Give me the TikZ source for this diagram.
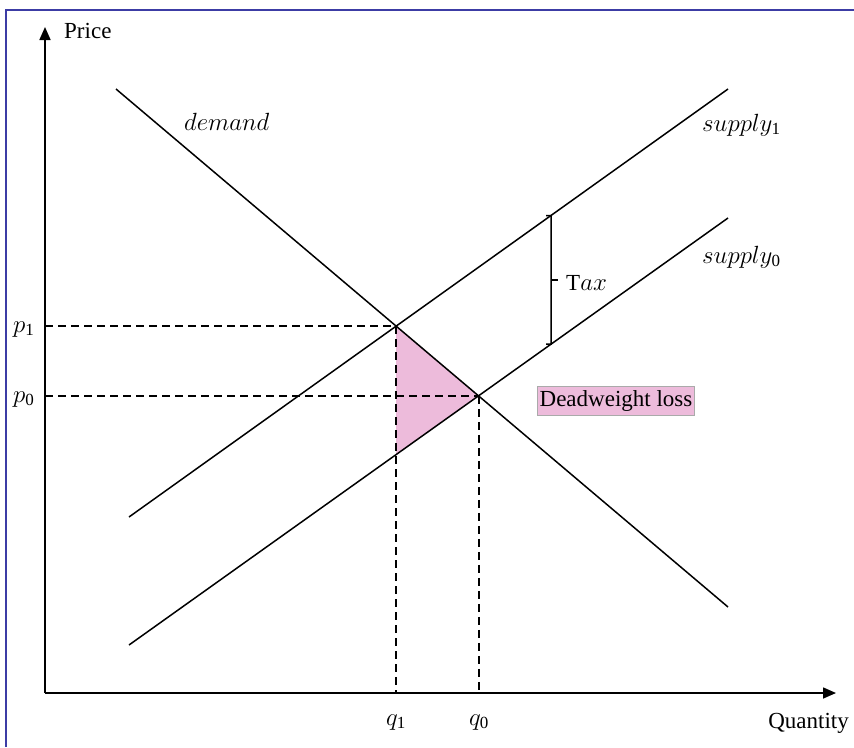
\documentclass[tikz,border=0pt]{standalone}
\usepackage{fontspec}
\setmainfont{Liberation Serif}
\usetikzlibrary{arrows.meta,calc}
\definecolor{framecol}{RGB}{60,60,165}
\definecolor{dwlpink}{RGB}{237,187,219}
\definecolor{boxgray}{RGB}{170,170,170}
\newcommand{\subdig}[1]{\hbox{\fontsize{17}{20}\selectfont #1}}
\tikzset{
  curve/.style={line width=1.5pt, black},
  axis/.style={line width=1.6pt, black, -{Triangle[length=13pt,width=11pt]}},
  guide/.style={line width=1.5pt, black, dash pattern=on 8pt off 5pt},
  lbl/.style={inner sep=0pt, font=\fontsize{23}{27}\selectfont},
  mlbl/.style={inner sep=0pt, font=\fontsize{25}{30}\selectfont},
}
\begin{document}
\begin{tikzpicture}[x=1pt,y=-1pt]
\useasboundingbox (0,0) rectangle (854,747);
% frame (left and top edges visible)
\draw[framecol, line width=1.5pt] (6,747) -- (6,10) -- (854,10);
% named points
\coordinate (O) at (45,693);
\coordinate (ytip) at (45,27);
\coordinate (xtip) at (836,693);
\coordinate (d1) at (116,89);
\coordinate (d2) at (728,607);
\coordinate (sa1) at (129,517);
\coordinate (sa2) at (728,89);
\coordinate (sb1) at (129,645);
\coordinate (sb2) at (728,218);
\coordinate (E1) at (intersection of d1--d2 and sa1--sa2);
\coordinate (E0) at (intersection of d1--d2 and sb1--sb2);
\coordinate (P1) at (O |- E1);
\coordinate (P0) at (O |- E0);
\coordinate (Q1) at (396,693);
\coordinate (Q0) at (479,693);
\coordinate (T1) at (E1 |- sb1);
\coordinate (B) at (intersection of E1--T1 and sb1--sb2);
% tax bracket points
\coordinate (tx0) at (551,0);
\coordinate (tx1) at (551,700);
\coordinate (tt) at (intersection of tx0--tx1 and sa1--sa2);
\coordinate (tb) at (intersection of tx0--tx1 and sb1--sb2);
% deadweight triangle
\fill[dwlpink] (E1) -- (E0) -- (B) -- cycle;
% guides
\draw[guide] (P1) -- (E1);
\draw[guide] (Q1 |- E1) -- (Q1);
\draw[guide] (P0) -- (E0);
\draw[guide] (Q0 |- E0) -- (Q0);
% curves
\draw[curve] (d1) -- (d2);
\draw[curve] (sa1) -- (sa2);
\draw[curve] (sb1) -- (sb2);
% axes
\draw[axis] (O) -- (ytip);
\draw[axis] (O) -- (xtip);
% tax bracket
\draw[line width=1.5pt] ([xshift=-5pt]tt) -- (tt) -- (tb) -- ([xshift=-5pt]tb);
\coordinate (tm) at ($(tt)!0.5!(tb)$);
\draw[line width=1.5pt] (tm) -- ([xshift=7pt]tm);
% labels
\node[lbl, anchor=base west] (price) at (64,38) {Price};
\node[mlbl, anchor=base west] (dem) at (184,130) {$demand$};
\node[mlbl, anchor=base west] (s1) at (702,131) {$supply_{\subdig{1}}$};
\node[mlbl, anchor=base west] (s0) at (702,263) {$supply_{\subdig{0}}$};
\node[mlbl, anchor=base west] (p1) at (13,332) {$p_{\subdig{1}}$};
\node[mlbl, anchor=base west] (p0) at (13,402) {$p_{\subdig{0}}$};
\node[mlbl, anchor=base] (q1) at (Q1 |- 0,725) {$q_{\subdig{1}}$};
\node[mlbl, anchor=base] (q0) at (Q0 |- 0,725) {$q_{\subdig{0}}$};
\node[lbl, anchor=base east] (qty) at (849,728) {Quantity};
\node[lbl, anchor=base west] (tax) at (566,290) {T\fontsize{25}{30}\selectfont$ax$};
\node[lbl, anchor=base, fill=dwlpink, draw=boxgray, line width=0.6pt, inner xsep=2pt, inner ysep=4pt] (dwl) at (616,406) {Deadweight loss};
\end{tikzpicture}
\end{document}
